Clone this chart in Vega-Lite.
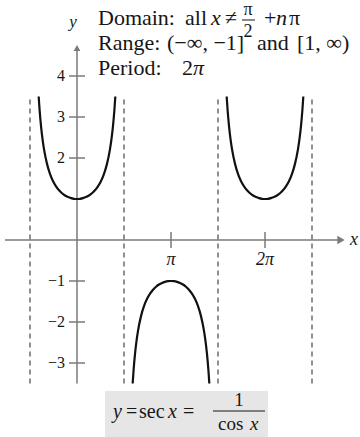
{
  "$schema": "https://vega.github.io/schema/vega-lite/v6.json",
  "width": 360,
  "height": 437,
  "autosize": "none",
  "padding": 0,
  "background": "white",
  "config": {"view": {"stroke": null}, "text": {"font": "Liberation Serif", "color": "#161616"}},
  "data": {"values": [{}]},
  "datasets": {
    "curve": [
      {"branch": "a", "x": -1.281, "y": 3.5}, {"branch": "a", "x": -1.25, "y": 3.1713}, {"branch": "a", "x": -1.2, "y": 2.7597}, {"branch": "a", "x": -1.15, "y": 2.4481}, {"branch": "a", "x": -1.1, "y": 2.2046}, {"branch": "a", "x": -1.0, "y": 1.8508}, {"branch": "a", "x": -0.9, "y": 1.6087}, {"branch": "a", "x": -0.8, "y": 1.4353}, {"branch": "a", "x": -0.7, "y": 1.3075}, {"branch": "a", "x": -0.6, "y": 1.2116}, {"branch": "a", "x": -0.5, "y": 1.1395}, {"branch": "a", "x": -0.4, "y": 1.0857}, {"branch": "a", "x": -0.3, "y": 1.0468}, {"branch": "a", "x": -0.2, "y": 1.0203}, {"branch": "a", "x": -0.1, "y": 1.005}, {"branch": "a", "x": 0, "y": 1}, {"branch": "a", "x": 0.1, "y": 1.005}, {"branch": "a", "x": 0.2, "y": 1.0203}, {"branch": "a", "x": 0.3, "y": 1.0468}, {"branch": "a", "x": 0.4, "y": 1.0857}, {"branch": "a", "x": 0.5, "y": 1.1395}, {"branch": "a", "x": 0.6, "y": 1.2116}, {"branch": "a", "x": 0.7, "y": 1.3075}, {"branch": "a", "x": 0.8, "y": 1.4353}, {"branch": "a", "x": 0.9, "y": 1.6087}, {"branch": "a", "x": 1.0, "y": 1.8508}, {"branch": "a", "x": 1.1, "y": 2.2046}, {"branch": "a", "x": 1.15, "y": 2.4481}, {"branch": "a", "x": 1.2, "y": 2.7597}, {"branch": "a", "x": 1.25, "y": 3.1713}, {"branch": "a", "x": 1.281, "y": 3.5},
      {"branch": "b", "x": 1.8606, "y": -3.5}, {"branch": "b", "x": 1.8916, "y": -3.1713}, {"branch": "b", "x": 1.9416, "y": -2.7597}, {"branch": "b", "x": 1.9916, "y": -2.4481}, {"branch": "b", "x": 2.0416, "y": -2.2046}, {"branch": "b", "x": 2.1416, "y": -1.8508}, {"branch": "b", "x": 2.2416, "y": -1.6087}, {"branch": "b", "x": 2.3416, "y": -1.4353}, {"branch": "b", "x": 2.4416, "y": -1.3075}, {"branch": "b", "x": 2.5416, "y": -1.2116}, {"branch": "b", "x": 2.6416, "y": -1.1395}, {"branch": "b", "x": 2.7416, "y": -1.0857}, {"branch": "b", "x": 2.8416, "y": -1.0468}, {"branch": "b", "x": 2.9416, "y": -1.0203}, {"branch": "b", "x": 3.0416, "y": -1.005}, {"branch": "b", "x": 3.1416, "y": -1}, {"branch": "b", "x": 3.2416, "y": -1.005}, {"branch": "b", "x": 3.3416, "y": -1.0203}, {"branch": "b", "x": 3.4416, "y": -1.0468}, {"branch": "b", "x": 3.5416, "y": -1.0857}, {"branch": "b", "x": 3.6416, "y": -1.1395}, {"branch": "b", "x": 3.7416, "y": -1.2116}, {"branch": "b", "x": 3.8416, "y": -1.3075}, {"branch": "b", "x": 3.9416, "y": -1.4353}, {"branch": "b", "x": 4.0416, "y": -1.6087}, {"branch": "b", "x": 4.1416, "y": -1.8508}, {"branch": "b", "x": 4.2416, "y": -2.2046}, {"branch": "b", "x": 4.2916, "y": -2.4481}, {"branch": "b", "x": 4.3416, "y": -2.7597}, {"branch": "b", "x": 4.3916, "y": -3.1713}, {"branch": "b", "x": 4.4226, "y": -3.5},
      {"branch": "c", "x": 5.0022, "y": 3.5}, {"branch": "c", "x": 5.0332, "y": 3.1713}, {"branch": "c", "x": 5.0832, "y": 2.7597}, {"branch": "c", "x": 5.1332, "y": 2.4481}, {"branch": "c", "x": 5.1832, "y": 2.2046}, {"branch": "c", "x": 5.2832, "y": 1.8508}, {"branch": "c", "x": 5.3832, "y": 1.6087}, {"branch": "c", "x": 5.4832, "y": 1.4353}, {"branch": "c", "x": 5.5832, "y": 1.3075}, {"branch": "c", "x": 5.6832, "y": 1.2116}, {"branch": "c", "x": 5.7832, "y": 1.1395}, {"branch": "c", "x": 5.8832, "y": 1.0857}, {"branch": "c", "x": 5.9832, "y": 1.0468}, {"branch": "c", "x": 6.0832, "y": 1.0203}, {"branch": "c", "x": 6.1832, "y": 1.005}, {"branch": "c", "x": 6.2832, "y": 1}, {"branch": "c", "x": 6.3832, "y": 1.005}, {"branch": "c", "x": 6.4832, "y": 1.0203}, {"branch": "c", "x": 6.5832, "y": 1.0468}, {"branch": "c", "x": 6.6832, "y": 1.0857}, {"branch": "c", "x": 6.7832, "y": 1.1395}, {"branch": "c", "x": 6.8832, "y": 1.2116}, {"branch": "c", "x": 6.9832, "y": 1.3075}, {"branch": "c", "x": 7.0832, "y": 1.4353}, {"branch": "c", "x": 7.1832, "y": 1.6087}, {"branch": "c", "x": 7.2832, "y": 1.8508}, {"branch": "c", "x": 7.3832, "y": 2.2046}, {"branch": "c", "x": 7.4332, "y": 2.4481}, {"branch": "c", "x": 7.4832, "y": 2.7597}, {"branch": "c", "x": 7.5332, "y": 3.1713}, {"branch": "c", "x": 7.5642, "y": 3.5}
    ],
    "asymptotes": [{"x": -1.5708}, {"x": 1.5708}, {"x": 4.7124}, {"x": 7.854}],
    "yticks": [{"value": 4, "label": "4"}, {"value": 3, "label": "3"}, {"value": 2, "label": "2"}, {"value": -1, "label": "−1"}, {"value": -2, "label": "−2"}, {"value": -3, "label": "−3"}],
    "xticks": [{"value": 3.1416, "label": "π"}, {"value": 6.2832, "label": "2π"}]
  },
  "layer": [
    {
      "mark": {"type": "rect", "color": "#e6e6e6"},
      "encoding": {
        "x": {"datum": 0.9358, "type": "quantitative", "scale": {"domain": [-2.5734, 9.4582], "nice": false, "zero": false}, "axis": null},
        "x2": {"datum": 6.3834},
        "y": {"datum": -3.6829, "type": "quantitative", "scale": {"domain": [-4.8049, 5.8537], "nice": false, "zero": false}, "axis": null},
        "y2": {"datum": -4.8049}
      }
    },
    {
      "data": {"name": "asymptotes"},
      "mark": {"type": "rule", "color": "#555555", "strokeWidth": 1.3, "strokeDash": [5, 4]},
      "encoding": {
        "x": {"field": "x", "type": "quantitative"},
        "y": {"datum": -3.5, "type": "quantitative"},
        "y2": {"datum": 3.5}
      }
    },
    {
      "mark": {"type": "rule", "color": "#7a7a7a", "strokeWidth": 1.5},
      "encoding": {"x": {"datum": -2.4063, "type": "quantitative"}, "x2": {"datum": 8.7898}, "y": {"datum": 0, "type": "quantitative"}}
    },
    {
      "mark": {"type": "rule", "color": "#7a7a7a", "strokeWidth": 1.5},
      "encoding": {"x": {"datum": 0, "type": "quantitative"}, "y": {"datum": -3.5, "type": "quantitative"}, "y2": {"datum": 4.7073}}
    },
    {
      "mark": {"type": "point", "shape": "triangle-right", "filled": true, "color": "#7a7a7a", "size": 70, "opacity": 1},
      "encoding": {"x": {"datum": 8.8232, "type": "quantitative"}, "y": {"datum": 0, "type": "quantitative"}}
    },
    {
      "mark": {"type": "point", "shape": "triangle-up", "filled": true, "color": "#7a7a7a", "size": 45, "opacity": 1},
      "encoding": {"x": {"datum": 0, "type": "quantitative"}, "y": {"datum": 4.6829, "type": "quantitative"}}
    },
    {
      "data": {"name": "yticks"},
      "mark": {"type": "rule", "color": "#7a7a7a", "strokeWidth": 1.5},
      "encoding": {
        "x": {"datum": -0.2674, "type": "quantitative"},
        "x2": {"datum": 0.2674},
        "y": {"field": "value", "type": "quantitative"}
      }
    },
    {
      "data": {"name": "yticks"},
      "mark": {"type": "text", "fontSize": 16, "align": "right", "baseline": "middle"},
      "encoding": {
        "x": {"datum": -0.4011, "type": "quantitative"},
        "y": {"field": "value", "type": "quantitative"},
        "text": {"field": "label", "type": "nominal"}
      }
    },
    {
      "data": {"name": "xticks"},
      "mark": {"type": "rule", "color": "#7a7a7a", "strokeWidth": 1.5},
      "encoding": {
        "x": {"field": "value", "type": "quantitative"},
        "y": {"datum": -0.195, "type": "quantitative"},
        "y2": {"datum": 0.195}
      }
    },
    {
      "data": {"name": "xticks"},
      "mark": {"type": "text", "fontSize": 18, "fontStyle": "italic", "align": "center", "baseline": "middle"},
      "encoding": {
        "x": {"field": "value", "type": "quantitative"},
        "y": {"datum": -0.4878, "type": "quantitative"},
        "text": {"field": "label", "type": "nominal"}
      }
    },
    {
      "data": {"name": "curve"},
      "mark": {"type": "line", "color": "#111111", "strokeWidth": 2.2, "interpolate": "monotone"},
      "encoding": {
        "x": {"field": "x", "type": "quantitative"},
        "y": {"field": "y", "type": "quantitative"},
        "detail": {"field": "branch"},
        "order": {"field": "x", "type": "quantitative"}
      }
    },
    {
      "mark": {"type": "text", "text": "x", "fontSize": 18, "fontStyle": "italic", "align": "left", "baseline": "middle"},
      "encoding": {"x": {"datum": 9.124, "type": "quantitative"}, "y": {"datum": 0, "type": "quantitative"}}
    },
    {
      "mark": {"type": "text", "text": "y", "fontSize": 17, "fontStyle": "italic", "align": "center", "baseline": "middle"},
      "encoding": {"x": {"datum": -0.1337, "type": "quantitative"}, "y": {"datum": 5.3171, "type": "quantitative"}}
    },
    {
      "mark": {"type": "text", "text": "Domain:", "fontSize": 22, "align": "left", "baseline": "alphabetic"},
      "encoding": {"x": {"datum": 0.7018, "type": "quantitative"}, "y": {"datum": 5.2439, "type": "quantitative"}}
    },
    {
      "mark": {"type": "text", "text": "all", "fontSize": 22, "align": "left", "baseline": "alphabetic"},
      "encoding": {"x": {"datum": 3.6095, "type": "quantitative"}, "y": {"datum": 5.2439, "type": "quantitative"}}
    },
    {
      "mark": {"type": "text", "text": "x", "fontSize": 22, "fontStyle": "italic", "align": "left", "baseline": "alphabetic"},
      "encoding": {"x": {"datum": 4.4784, "type": "quantitative"}, "y": {"datum": 5.2439, "type": "quantitative"}}
    },
    {
      "mark": {"type": "text", "text": "≠", "fontSize": 22, "align": "left", "baseline": "alphabetic"},
      "encoding": {"x": {"datum": 4.9463, "type": "quantitative"}, "y": {"datum": 5.2439, "type": "quantitative"}}
    },
    {
      "mark": {"type": "text", "text": "π", "fontSize": 18, "align": "center", "baseline": "alphabetic"},
      "encoding": {"x": {"datum": 5.715, "type": "quantitative"}, "y": {"datum": 5.4878, "type": "quantitative"}}
    },
    {
      "mark": {"type": "rule", "color": "#161616", "strokeWidth": 1},
      "encoding": {"x": {"datum": 5.5145, "type": "quantitative"}, "x2": {"datum": 5.949}, "y": {"datum": 5.3659, "type": "quantitative"}}
    },
    {
      "mark": {"type": "text", "text": "2", "fontSize": 18, "align": "center", "baseline": "alphabetic"},
      "encoding": {"x": {"datum": 5.715, "type": "quantitative"}, "y": {"datum": 4.9512, "type": "quantitative"}}
    },
    {
      "mark": {"type": "text", "text": "+", "fontSize": 22, "align": "left", "baseline": "alphabetic"},
      "encoding": {"x": {"datum": 6.2498, "type": "quantitative"}, "y": {"datum": 5.2439, "type": "quantitative"}}
    },
    {
      "mark": {"type": "text", "text": "n", "fontSize": 22, "fontStyle": "italic", "align": "left", "baseline": "alphabetic"},
      "encoding": {"x": {"datum": 6.6508, "type": "quantitative"}, "y": {"datum": 5.2439, "type": "quantitative"}}
    },
    {
      "mark": {"type": "text", "text": "π", "fontSize": 22, "align": "left", "baseline": "alphabetic"},
      "encoding": {"x": {"datum": 7.0853, "type": "quantitative"}, "y": {"datum": 5.2439, "type": "quantitative"}}
    },
    {
      "mark": {"type": "text", "text": "Range:", "fontSize": 22, "align": "left", "baseline": "alphabetic"},
      "encoding": {"x": {"datum": 0.7018, "type": "quantitative"}, "y": {"datum": 4.6341, "type": "quantitative"}}
    },
    {
      "mark": {"type": "text", "text": "(−∞, −1]", "fontSize": 22, "align": "left", "baseline": "alphabetic"},
      "encoding": {"x": {"datum": 3.0079, "type": "quantitative"}, "y": {"datum": 4.6341, "type": "quantitative"}}
    },
    {
      "mark": {"type": "text", "text": "and", "fontSize": 22, "align": "left", "baseline": "alphabetic"},
      "encoding": {"x": {"datum": 6.0158, "type": "quantitative"}, "y": {"datum": 4.6341, "type": "quantitative"}}
    },
    {
      "mark": {"type": "text", "text": "[1, ∞)", "fontSize": 22, "align": "left", "baseline": "alphabetic"},
      "encoding": {"x": {"datum": 7.3527, "type": "quantitative"}, "y": {"datum": 4.6341, "type": "quantitative"}}
    },
    {
      "mark": {"type": "text", "text": "Period:", "fontSize": 22, "align": "left", "baseline": "alphabetic"},
      "encoding": {"x": {"datum": 0.7018, "type": "quantitative"}, "y": {"datum": 4.0244, "type": "quantitative"}}
    },
    {
      "mark": {"type": "text", "text": "2", "fontSize": 22, "align": "left", "baseline": "alphabetic"},
      "encoding": {"x": {"datum": 3.5092, "type": "quantitative"}, "y": {"datum": 4.0244, "type": "quantitative"}}
    },
    {
      "mark": {"type": "text", "text": "π", "fontSize": 22, "fontStyle": "italic", "align": "left", "baseline": "alphabetic"},
      "encoding": {"x": {"datum": 3.8769, "type": "quantitative"}, "y": {"datum": 4.0244, "type": "quantitative"}}
    },
    {
      "mark": {"type": "text", "text": "y", "fontSize": 20, "fontStyle": "italic", "align": "left", "baseline": "alphabetic"},
      "encoding": {"x": {"datum": 1.2032, "type": "quantitative"}, "y": {"datum": -4.3415, "type": "quantitative"}}
    },
    {
      "mark": {"type": "text", "text": "=", "fontSize": 20, "align": "left", "baseline": "alphabetic"},
      "encoding": {"x": {"datum": 1.6376, "type": "quantitative"}, "y": {"datum": -4.3415, "type": "quantitative"}}
    },
    {
      "mark": {"type": "text", "text": "sec", "fontSize": 20, "align": "left", "baseline": "alphabetic"},
      "encoding": {"x": {"datum": 2.0721, "type": "quantitative"}, "y": {"datum": -4.3415, "type": "quantitative"}}
    },
    {
      "mark": {"type": "text", "text": "x", "fontSize": 20, "fontStyle": "italic", "align": "left", "baseline": "alphabetic"},
      "encoding": {"x": {"datum": 3.0413, "type": "quantitative"}, "y": {"datum": -4.3415, "type": "quantitative"}}
    },
    {
      "mark": {"type": "text", "text": "=", "fontSize": 20, "align": "left", "baseline": "alphabetic"},
      "encoding": {"x": {"datum": 3.5426, "type": "quantitative"}, "y": {"datum": -4.3415, "type": "quantitative"}}
    },
    {
      "mark": {"type": "text", "text": "1", "fontSize": 19, "align": "center", "baseline": "alphabetic"},
      "encoding": {"x": {"datum": 5.4142, "type": "quantitative"}, "y": {"datum": -4.0488, "type": "quantitative"}}
    },
    {
      "mark": {"type": "rule", "color": "#161616", "strokeWidth": 1.2},
      "encoding": {"x": {"datum": 4.5453, "type": "quantitative"}, "x2": {"datum": 6.2832}, "y": {"datum": -4.1707, "type": "quantitative"}}
    },
    {
      "mark": {"type": "text", "text": "cos", "fontSize": 19, "align": "left", "baseline": "alphabetic"},
      "encoding": {"x": {"datum": 4.7124, "type": "quantitative"}, "y": {"datum": -4.6341, "type": "quantitative"}}
    },
    {
      "mark": {"type": "text", "text": "x", "fontSize": 19, "fontStyle": "italic", "align": "left", "baseline": "alphabetic"},
      "encoding": {"x": {"datum": 5.7819, "type": "quantitative"}, "y": {"datum": -4.6341, "type": "quantitative"}}
    }
  ]
}
